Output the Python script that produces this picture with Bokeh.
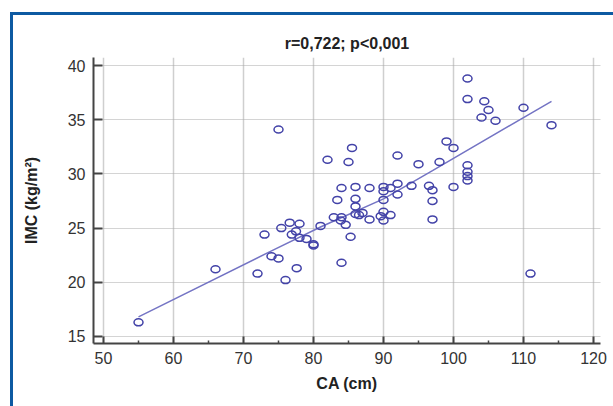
from bokeh.plotting import figure
from bokeh.models import Range1d, FixedTicker
from bokeh.embed import file_html
from bokeh.resources import INLINE

# Data
ca = [55, 66, 72, 73, 74, 75, 75, 75.4, 76, 76.6, 76.9, 77.5, 77.6, 78, 78, 79, 80, 80,
      81, 82, 82.9, 83.4, 83.9, 84, 84, 84, 84.6, 85, 85.3, 85.5, 86, 86, 86, 86, 86.5,
      87, 88, 88, 89.6, 90, 90, 90, 90, 90, 91, 91, 92, 92, 92, 94, 95, 96.5, 97, 97, 97,
      98, 99, 100, 100, 102, 102, 102, 102, 102, 102, 104, 104.4, 105, 106, 110, 111, 114]
imc = [16.3, 21.2, 20.8, 24.4, 22.4, 22.2, 34.1, 25.0, 20.2, 25.5, 24.4, 24.7, 21.3, 25.4,
       24.1, 24.0, 23.5, 23.4, 25.2, 31.3, 26.0, 27.6, 25.7, 26.0, 28.7, 21.8, 25.3, 31.1,
       24.2, 32.4, 28.8, 27.7, 27.0, 26.3, 26.2, 26.4, 28.7, 25.8, 26.1, 28.8, 28.4, 27.6,
       26.5, 25.7, 28.7, 26.2, 31.7, 29.1, 28.1, 28.9, 30.9, 28.9, 28.5, 27.5, 25.8, 31.1,
       33.0, 32.4, 28.8, 38.8, 36.9, 30.8, 30.2, 29.8, 29.4, 35.2, 36.7, 35.9, 34.9, 36.1,
       20.8, 34.5]

# Fitted line as drawn in the reference
fit_ca = [55, 74, 81, 90, 97, 110, 114]
fit_imc = [16.8, 22.9, 25.1, 27.7, 30.3, 35.2, 36.7]

x_ticks = [50, 60, 70, 80, 90, 100, 110, 120]
x_minor = [55, 65, 75, 85, 95, 105, 115]
y_ticks = [15, 20, 25, 30, 35, 40]

title_text = "r=0,722; p<0,001"
x_label = "CA (cm)"
y_label = "IMC (kg/m²)"

FONT = "Liberation Sans"
TEXT = "#333333"
AXIS = "#444444"
FRAME = "#0d5aa2"

p = figure(width=613, height=406, output_backend="svg", toolbar_location=None,
           x_range=Range1d(48.57, 121.0), y_range=Range1d(14.35, 40.74),
           min_border_left=93, min_border_right=13, min_border_top=57,
           min_border_bottom=63, title=title_text)

p.background_fill_color = "white"
p.border_fill_color = "white"
p.border_fill_alpha = 0
p.outline_line_color = None
# blue frame (left and top edges) painted behind the transparent border area
p.styles = {
    "background-color": "white",
    "background-image": f"linear-gradient({FRAME}, {FRAME}), linear-gradient({FRAME}, {FRAME})",
    "background-position": "10px 12px, 10px 12px",
    "background-size": "3px 100%, 100% 3px",
    "background-repeat": "no-repeat, no-repeat",
}

p.title.align = "center"
p.title.text_font = FONT
p.title.text_font_size = "16px"
p.title.text_font_style = "bold"
p.title.text_color = "#222222"
p.title.standoff = 12

# Axes
p.xaxis.ticker = FixedTicker(ticks=x_ticks, minor_ticks=x_minor)
p.yaxis.ticker = FixedTicker(ticks=y_ticks, minor_ticks=[])
for ax in (p.xaxis[0], p.yaxis[0]):
    ax.axis_line_color = AXIS
    ax.axis_line_width = 2
    ax.major_tick_line_color = AXIS
    ax.major_tick_line_width = 2
    ax.major_tick_out = 0
    ax.minor_tick_out = 0
    ax.major_label_text_font = FONT
    ax.major_label_text_font_size = "16px"
    ax.major_label_text_color = TEXT
    ax.axis_label_text_font = FONT
    ax.axis_label_text_font_size = "16px"
    ax.axis_label_text_font_style = "bold"
    ax.axis_label_text_color = "#222222"

p.xaxis.major_tick_in = 7
p.xaxis.minor_tick_in = 3
p.xaxis.minor_tick_line_color = AXIS
p.xaxis.minor_tick_line_width = 1.5
p.xaxis.major_label_standoff = 8
p.xaxis.axis_label = x_label
p.xaxis.axis_label_standoff = 8

p.yaxis.major_tick_in = 9
p.yaxis.minor_tick_line_color = None
p.yaxis.major_label_standoff = 8
p.yaxis.axis_label = y_label
p.yaxis.axis_label_standoff = 25

# Grid
p.xgrid.grid_line_color = "#cfcfcf"
p.xgrid.grid_line_width = 1.5
p.ygrid.grid_line_color = "#a8a8a8"
p.ygrid.grid_line_width = 1
p.ygrid.grid_line_dash = "1 1"

# Regression line and points
p.line(fit_ca, fit_imc, line_color="#7474c4", line_width=1.5)
p.ellipse(x=ca, y=imc, width=9, height=7, width_units="screen", height_units="screen",
          fill_color=None, line_color="#4343a8", line_width=1.5)

open("out.html", "w").write(file_html(p, INLINE))
